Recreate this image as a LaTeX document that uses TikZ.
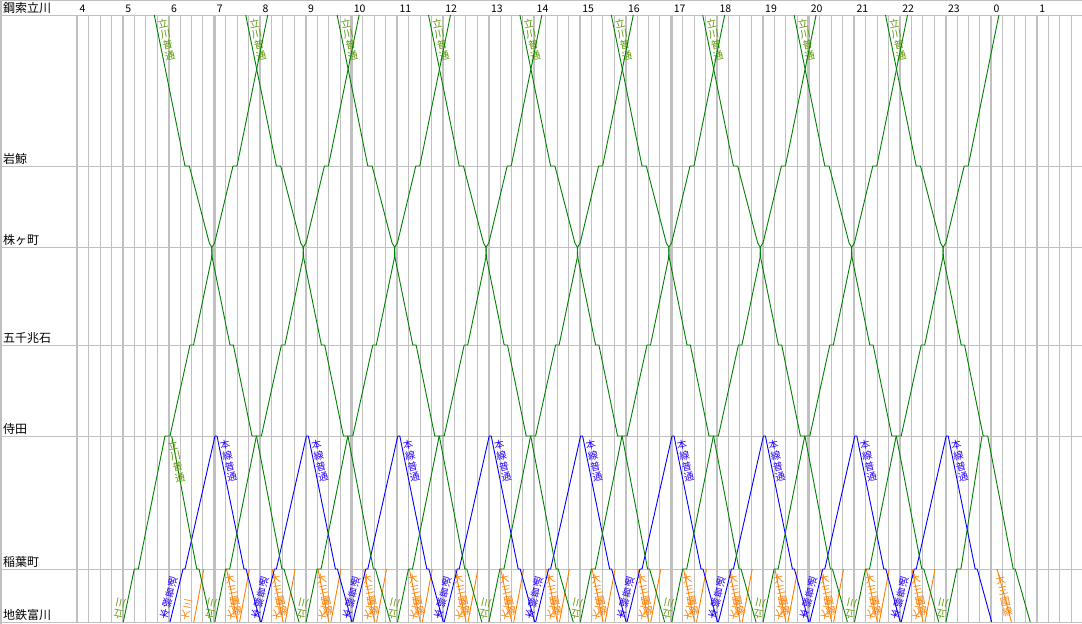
\documentclass[tikz,border=0pt]{standalone}
\usepackage{fontspec}
\setmainfont{Noto Sans CJK JP}
\newfontfamily\jp{Noto Sans CJK JP}
\definecolor{gridgray}{RGB}{192,192,192}
\definecolor{tgreen}{RGB}{0,128,0}
\definecolor{tblue}{RGB}{0,0,255}
\definecolor{torange}{RGB}{255,128,0}
\definecolor{lgreen}{RGB}{90,150,0}
\definecolor{lblue}{RGB}{40,0,255}
\tikzset{
  thinline/.style={draw=gridgray, line width=1pt},
  hourline/.style={draw=gridgray, line width=2.2pt},
  stnline/.style={draw=gridgray, line width=1pt},
  stnlabel/.style={anchor=base west, inner sep=0pt, font=\jp\fontsize{12}{12}\selectfont},
  hrlabel/.style={anchor=base west, inner sep=0pt, font=\jp\fontsize{10.5}{10.5}\selectfont},
  gtrain/.style={draw=tgreen, line width=0.9pt, line join=round},
  btrain/.style={draw=tblue, line width=0.9pt, line join=round},
  otrain/.style={draw=torange, line width=0.9pt, line join=round},
  vlabel/.style={inner sep=0pt, align=center, font=\jp\fontsize{10}{11}\selectfont}
}
\begin{document}
\begin{tikzpicture}[x=1pt,y=-1pt]
\useasboundingbox (0,0) rectangle (1082,624);
\fill[white] (0,0) rectangle (1082,624);
% 15-minute lines
\foreach \i in {1,...,87} {
  \draw[thinline] ({77.3+\i*11.425},15) -- ({77.3+\i*11.425},622);
}
% hour lines and labels
\foreach \h [count=\i from 0] in {4,5,6,7,8,9,10,11,12,13,14,15,16,17,18,19,20,21,22,23,0,1} {
  \draw[hourline] ({77.3+\i*45.7},15) -- ({77.3+\i*45.7},622);
  \node[hrlabel] (h\i) at ({79.5+\i*45.7},12.5) {\h};
}
% station lines
\foreach \y in {15,166,247,345,436,569,622} {
  \draw[stnline] (0,\y) -- (1082,\y);
}
\draw[gridgray, line width=2pt] (1,0) -- (1,624);
\draw[gridgray, line width=1pt] (0,0.5) -- (1082,0.5);
% station names
\node[stnlabel] (s1) at (3,12.5) {鋼索立川};
\node[stnlabel] (s2) at (3,163.5) {岩鯨};
\node[stnlabel] (s3) at (3,244.5) {株ヶ町};
\node[stnlabel] (s4) at (3,342.5) {五千兆石};
\node[stnlabel] (s5) at (3,433.5) {侍田};
\node[stnlabel] (s6) at (3,566.5) {稲葉町};
\node[stnlabel] (s7) at (3,619) {地鉄富川};
% orange trains (稲葉町 - 地鉄富川)
\foreach \j in {0,...,15} {
  \draw[otrain] ({226.5+\j*45.7},569) -- ({237.5+\j*45.7},622);
  \node[vlabel, text=torange, rotate=12] (od\j) at ({233.5+\j*45.7},595) {大\\三\\國\\線};
}
\draw[otrain] (997,569) -- (1011.5,622);
\node[vlabel, text=torange, rotate=12] (odl) at (1004,596) {大\\三\\國\\線};
\foreach \j in {0,...,16} {
  \draw[otrain] ({193.8+\j*45.7},622) -- ({203.8+\j*45.7},569);
  \node[vlabel, text=torange, rotate=168] (ou\j) at ({186.5+\j*45.7},610) {大\\三};
}
% blue trains
\foreach \k in {0,...,8} {
  \draw[btrain, shift={(\k*91.4,0)}] (170,622) -- (183,569) -- (185,569) -- (215,436) -- (217,436) -- (244,569) -- (246,569) -- (260.5,622);
  \node[vlabel, text=lblue, rotate=12] (bd\k) at ({228.5+\k*91.4},461) {本\\線\\普\\通};
  \node[vlabel, text=lblue, rotate=166] (bu\k) at ({168.5+\k*91.4},598) {本\\線\\普\\通};
}
% green through trains
\foreach \k in {0,...,8} {
  \draw[gtrain, shift={(\k*91.4,0)}] (154.3,15) -- (185,166) -- (189.3,166) -- (209.3,243) -- (211.7,247) -- (212.3,258) -- (230,345) -- (233.3,345) -- (252,436) -- (256.5,436) -- (282,569) -- (284,569) -- (299,622);
  \node[vlabel, text=lgreen, rotate=12] (dl\k) at ({166.5+\k*91.4},39.5) {立\\川\\普\\通};
}
\foreach \k in {0,...,8} {
  \draw[gtrain, shift={(\k*91.4,0)}] (123.3,622) -- (134.3,569) -- (138.3,569) -- (165,436) -- (170,436) -- (190,345) -- (193.5,345) -- (211.6,258) -- (212,247) -- (214.6,243) -- (233,166) -- (237,166) -- (267.7,15);
}
\draw[gtrain] (945.9,622) -- (956.9,569) -- (960.9,569) -- (982,436);
\draw[gtrain] (171.7,436) -- (196.7,569) -- (199,569) -- (211,622);
\node[vlabel, text=lgreen, rotate=12] (dp) at (176.5,461.5) {立\\川\\普\\通};
\foreach \k in {0,...,9} {
  \node[vlabel, text=lgreen, rotate=168] (ul\k) at ({119.5+\k*91.4},608.5) {立\\川};
}
\end{tikzpicture}
\end{document}
